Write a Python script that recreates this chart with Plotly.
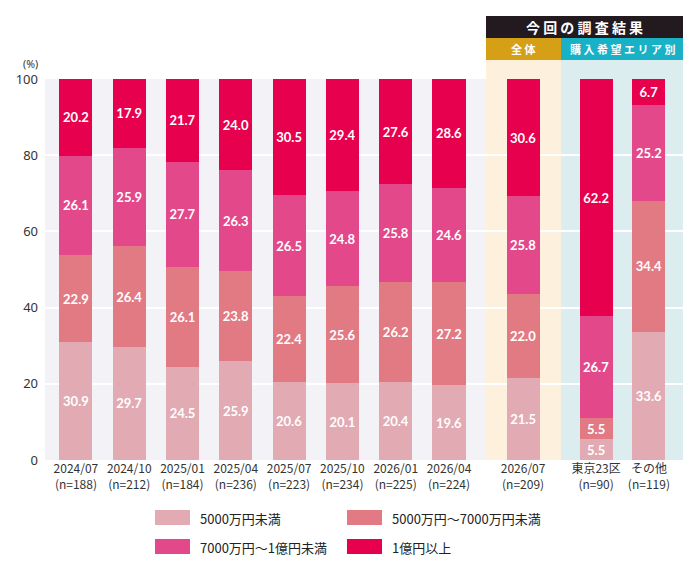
import plotly.graph_objects as go

categories = ["2024/07<br>(n=188)", "2024/10<br>(n=212)", "2025/01<br>(n=184)", "2025/04<br>(n=236)",
              "2025/07<br>(n=223)", "2025/10<br>(n=234)", "2026/01<br>(n=225)", "2026/04<br>(n=224)",
              "2026/07<br>(n=209)", "東京23区<br>(n=90)", "その他<br>(n=119)"]
series_names = ["5000万円未満", "5000万円～7000万円未満", "7000万円～1億円未満", "1億円以上"]
under_5000 = [30.9, 29.7, 24.5, 25.9, 20.6, 20.1, 20.4, 19.6, 21.5, 5.5, 33.6]
from_5000_to_7000 = [22.9, 26.4, 26.1, 23.8, 22.4, 25.6, 26.2, 27.2, 22.0, 5.5, 34.4]
from_7000_to_1oku = [26.1, 25.9, 27.7, 26.3, 26.5, 24.8, 25.8, 24.6, 25.8, 26.7, 25.2]
over_1oku = [20.2, 17.9, 21.7, 24.0, 30.5, 29.4, 27.6, 28.6, 30.6, 62.2, 6.7]
y_ticks = [0, 20, 40, 60, 80, 100]

# layout positions (not data)
x_pos = [0, 1, 2, 3, 4, 5, 6, 7, 8.39, 9.76, 10.75]
colors = ["#e2aab2", "#e27a84", "#e2488a", "#e6004e"]
values = [under_5000, from_5000_to_7000, from_7000_to_1oku, over_1oku]

L, R, T, B = 45, 17, 79, 110
W, H = 700, 570
pw, ph = W - L - R, H - T - B

def px(xp):
    return (xp - L) / pw

def py(yp):
    return (H - B - yp) / ph

fig = go.Figure()
for name, vals, c in zip(series_names, values, colors):
    fig.add_trace(go.Bar(
        x=x_pos, y=vals, name=name, marker=dict(color=c, line=dict(width=0)),
        width=0.62, text=[f"{v:.1f}" for v in vals], textposition="inside",
        insidetextanchor="middle", textangle=0, constraintext="none",
        textfont=dict(color="white", size=13, family="Lato, Noto Sans", weight="bold"),
        hoverinfo="skip", showlegend=False,
    ))

shapes = []
# shaded columns
shapes.append(dict(type="rect", xref="paper", yref="paper", x0=px(486), x1=px(561), y0=0, y1=py(60),
                   fillcolor="#fdf1dd", line=dict(width=0), layer="below"))
shapes.append(dict(type="rect", xref="paper", yref="paper", x0=px(561), x1=1, y0=0, y1=py(60),
                   fillcolor="#dcedf0", line=dict(width=0), layer="below"))
# headers
shapes.append(dict(type="rect", xref="paper", yref="paper", x0=px(486), x1=1, y0=py(38), y1=py(16),
                   fillcolor="#221a1f", line=dict(width=0), layer="above"))
shapes.append(dict(type="rect", xref="paper", yref="paper", x0=px(486), x1=px(561), y0=py(60), y1=py(38),
                   fillcolor="#d5a016", line=dict(width=0), layer="above"))
shapes.append(dict(type="rect", xref="paper", yref="paper", x0=px(561), x1=1, y0=py(60), y1=py(38),
                   fillcolor="#18b1c6", line=dict(width=0), layer="above"))

def ann(text, x, y, size, color="white", weight="bold", xanchor="center", family="Noto Sans CJK JP"):
    return dict(text=text, xref="paper", yref="paper", x=x, y=y, xanchor=xanchor, yanchor="middle",
                showarrow=False, font=dict(color=color, size=size, family=family, weight=weight))

annotations = [
    ann("今 回 の 調 査 結 果", (px(486) + 1) / 2, py(27), 14),
    ann("全 体", (px(486) + px(561)) / 2, py(49), 11),
    ann("購 入 希 望 エ リ ア 別", (px(561) + 1) / 2, py(49), 11),
    ann("(%)", px(30), py(64), 10.5, color="#333", weight="normal", family="Noto Sans"),
]

# manual legend
leg_pos = [(155, 510), (347, 510), (155, 539), (347, 539)]
for (lx, ly), name, c in zip(leg_pos, series_names, colors):
    shapes.append(dict(type="rect", xref="paper", yref="paper", x0=px(lx), x1=px(lx + 35),
                       y0=py(ly + 15), y1=py(ly), fillcolor=c, line=dict(width=0)))
    annotations.append(ann(name, px(lx + 43), py(ly + 8), 13, color="#222", weight="normal",
                           xanchor="left"))

fig.update_layout(
    barmode="stack", width=W, height=H,
    margin=dict(l=L, r=R, t=T, b=B),
    paper_bgcolor="white", plot_bgcolor="#f3f2f7",
    uniformtext=dict(minsize=13, mode="show"),
    shapes=shapes, annotations=annotations,
    xaxis=dict(range=[-0.58, 11.39], tickvals=x_pos, ticktext=categories, showgrid=False,
               zeroline=False, showline=False, ticks="",
               tickfont=dict(size=12, color="#333", family="Noto Sans CJK JP")),
    yaxis=dict(range=[0, 100], tickvals=y_ticks, showgrid=True, gridcolor="white", gridwidth=1.5,
               zeroline=False, showline=False, ticks="", ticklabelstandoff=6,
               tickfont=dict(size=13, color="#333", family="Noto Sans")),
    font=dict(family="Noto Sans CJK JP"),
)
fig.write_html("out.html")
